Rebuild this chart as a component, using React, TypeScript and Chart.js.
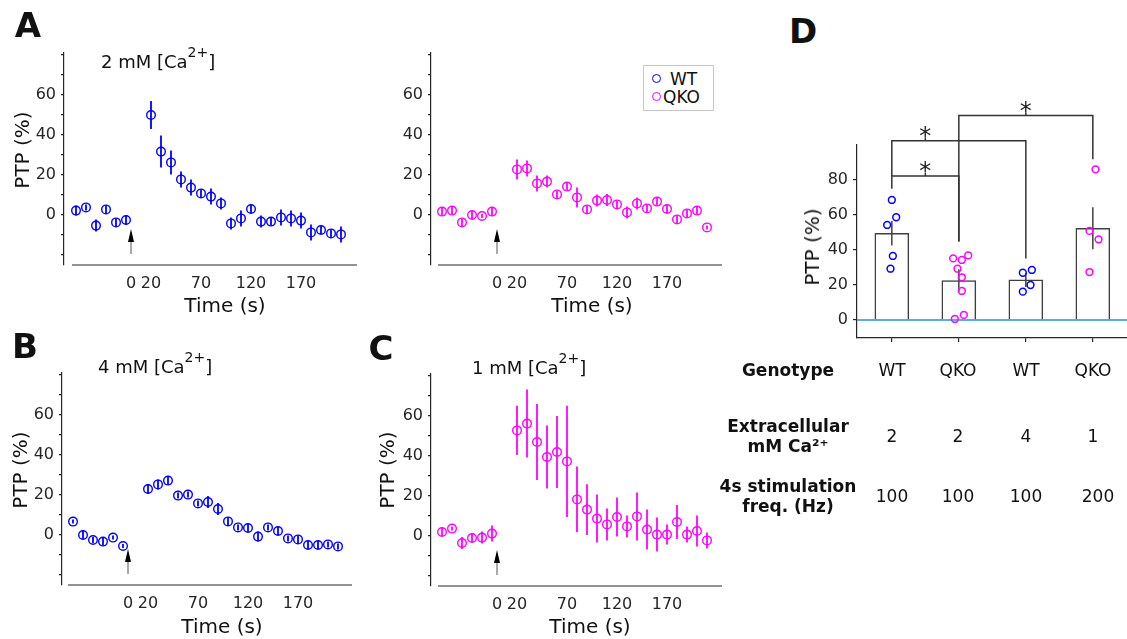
import React, { useEffect, useRef } from 'react';
import { Chart, registerables } from 'chart.js';

Chart.register(...registerables);

const FONT_FAMILY = "'DejaVu Sans', Verdana, sans-serif";
const AXIS_COLOR = '#262626';
const TEXT_COLOR = '#111111';
const WT_COLOR = '#0000ff';
const QKO_COLOR = '#ff00ff';
const BAR_EDGE = '#404040';
const ZERO_LINE_COLOR = '#2a8fd4';

// ---------- time-course data (A, B, C) ----------
const baselineTimes = [-55, -45, -35, -25, -15, -5];
const postTetanicTimes = [20, 30, 40, 50, 60, 70, 80, 90, 100, 110, 120, 130, 140, 150, 160, 170, 180, 190, 200, 210];
const sampleTimes = [...baselineTimes, ...postTetanicTimes];
const timeTicks = [0, 20, 70, 120, 170];
const ptpMin = -25;
const ptpMax = 81;
const ptpStep = 10;
const ptpLabelled = [0, 20, 40, 60];
const stimulusArrow = { time: 0, tip: -7, base: -13.5, tail: -19.5 };

// A left: WT, 2 mM Ca2+
const wt2mMMean = [2.2, 3.8, -5.3, 2.8, -3.7, -2.5, 50, 31.7, 26.3, 17.8, 13.7, 10.8, 9.2, 5.8, -4.2, -1.7, 3, -3.3, -3.3, -1.2, -1.7, -2.8, -8.7, -7.5, -9.2, -9.7];
const wt2mMErr = [2.5, 1.5, 3, 2, 2, 2.5, 7, 8, 6, 4, 4, 2, 4, 3, 3, 4, 2, 3, 2, 4, 4, 4, 4, 2, 2, 4];
// A right: QKO, 2 mM Ca2+
const qko2mMMean = [1.7, 2.2, -3.7, 0, -0.5, 1.7, 22.8, 23.3, 15.8, 16.7, 10.3, 14.2, 8.8, 2.8, 7.2, 7.5, 5.3, 1.3, 5.8, 3.3, 6.7, 3, -2.2, 0.8, 2.2, -6.2];
const qko2mMErr = [2, 2, 2, 2, 1, 2, 5, 4, 4, 3, 2, 2, 5, 2, 3, 3, 2, 3, 3, 2, 2, 2, 2, 2, 2, 1];
// B: WT, 4 mM Ca2+
const wt4mMMean = [6.7, 0, -2.5, -3.3, -1.3, -5.5, 23, 25.3, 27.2, 19.7, 20.2, 15.8, 16.5, 13, 6.8, 3.8, 3.5, -0.8, 3.8, 2, -1.7, -2.2, -5, -5, -4.7, -5.7];
const wt4mMErr = [1, 2, 1.5, 2, 1, 1, 2.5, 2.5, 2, 1.5, 1.5, 1.5, 3, 3, 2, 1.5, 2, 2.5, 1.5, 2, 1.5, 2, 2, 2, 1.5, 1.5];
// C: QKO, 1 mM Ca2+
const qko1mMMean = [2, 3.7, -3.5, -1, -0.8, 1.2, 52.8, 56.2, 47, 39.5, 42, 37.3, 18.3, 13.2, 8.7, 5.8, 9.5, 4.8, 9.8, 3.2, 0.7, 0.7, 7, 0.7, 2.5, -2.2];
const qko1mMErr = [2, 1, 3, 2, 3, 4, 12.3, 17, 19, 15.7, 18, 27.8, 16.4, 12.7, 12, 8, 9.8, 5.5, 12, 10, 8.5, 5, 8.5, 4, 7.7, 4];

// ---------- summary data (D) ----------
const groupPositions = [1, 2, 3, 4];
const groupGenotype = ['WT', 'QKO', 'WT', 'QKO'];
const groupCalcium = ['2', '2', '4', '1'];
const groupFrequency = ['100', '100', '100', '200'];
const groupMeans = [49.5, 22.5, 22.9, 52.4];
const groupSem = [7, 6.5, 4, 12];
const cellsWT2 = [68.6, 58.7, 54.3, 36.6, 29.3];
const cellsWT2Jitter = [0, 0.065, -0.07, 0.015, -0.02];
const cellsQKO2 = [35.2, 34.3, 36.9, 29.3, 24.4, 16.6, 2.9, 0.6];
const cellsQKO2Jitter = [-0.085, 0.045, 0.14, -0.02, 0.045, 0.045, 0.075, -0.06];
const cellsWT4 = [27, 28.6, 20, 16.2];
const cellsWT4Jitter = [-0.045, 0.09, 0.07, -0.045];
const cellsQKO1 = [86.1, 50.9, 46.1, 27.4];
const cellsQKO1Jitter = [0.04, -0.05, 0.085, -0.05];
const barTicks = [0, 20, 40, 60, 80];
const barYMin = -10.29;
const barYMax = 100;
const barXMin = 0.48;
const barXMax = 4.51;
// [from group, to group, bracket height, left leg end, right leg end, star position]
const significance: number[][] = [
  [1, 2, 82.3, 75, 44.8, 1.5],
  [1, 3, 102.5, 82.3, 35.2, 1.5],
  [2, 4, 116.8, 44.8, 91.8, 3],
];

type Geo = { yAxisX: number; zeroX: number; xLineStart: number; xLineEnd: number; zeroY: number };
const PX_PER_S = 1;
const PX_PER_PCT = 2;

function TimeCourse({ geo, mean, err, color }: { geo: Geo; mean: number[]; err: number[]; color: string }) {
  const ref = useRef<HTMLCanvasElement>(null);
  const padL = 50, padT = 18, padR = 12, xH = 44;
  const areaTop = geo.zeroY - ptpMax * PX_PER_PCT;
  const areaBottom = geo.zeroY - ptpMin * PX_PER_PCT;
  const left = geo.yAxisX - padL;
  const top = areaTop - padT;
  const width = geo.xLineEnd + padR - left;
  const height = areaBottom + xH - top;
  const xMin = -(geo.zeroX - geo.yAxisX) / PX_PER_S;
  const xMax = (geo.xLineEnd - geo.zeroX) / PX_PER_S;

  useEffect(() => {
    const canvas = ref.current!;
    const overlay = {
      id: 'ptpOverlay',
      afterDatasetsDraw(chart: any) {
        const { ctx, chartArea, scales } = chart;
        const sx = scales.x, sy = scales.y;
        ctx.save();
        ctx.strokeStyle = color;
        ctx.lineWidth = 1.8;
        sampleTimes.forEach((t, i) => {
          const px = sx.getPixelForValue(t);
          ctx.beginPath();
          ctx.moveTo(px, sy.getPixelForValue(mean[i] - err[i]));
          ctx.lineTo(px, sy.getPixelForValue(mean[i] + err[i]));
          ctx.stroke();
        });
        ctx.strokeStyle = AXIS_COLOR;
        ctx.lineWidth = 1.2;
        ctx.beginPath();
        ctx.moveTo(chartArea.left + (geo.xLineStart - geo.yAxisX), chartArea.bottom);
        ctx.lineTo(chartArea.right, chartArea.bottom);
        ctx.stroke();
        const ax = sx.getPixelForValue(stimulusArrow.time);
        const yTip = sy.getPixelForValue(stimulusArrow.tip);
        const yBase = sy.getPixelForValue(stimulusArrow.base);
        const yTail = sy.getPixelForValue(stimulusArrow.tail);
        ctx.strokeStyle = '#555555';
        ctx.lineWidth = 1;
        ctx.beginPath();
        ctx.moveTo(ax, yTail);
        ctx.lineTo(ax, yBase);
        ctx.stroke();
        ctx.fillStyle = '#000000';
        ctx.beginPath();
        ctx.moveTo(ax, yTip);
        ctx.lineTo(ax - 3, yBase);
        ctx.lineTo(ax + 3, yBase);
        ctx.closePath();
        ctx.fill();
        ctx.restore();
      },
    };
    const chart = new Chart(canvas, {
      type: 'scatter',
      data: {
        datasets: [
          {
            data: sampleTimes.map((t, i) => ({ x: t, y: mean[i] })),
            borderColor: color,
            backgroundColor: 'rgba(0,0,0,0)',
            pointRadius: 4.3,
            pointHoverRadius: 4.3,
            pointBorderWidth: 1.4,
          },
        ],
      },
      options: {
        responsive: false,
        animation: false,
        events: [],
        layout: { autoPadding: false, padding: { left: 0, top: padT, right: padR, bottom: 0 } },
        plugins: { legend: { display: false }, tooltip: { enabled: false } },
        scales: {
          x: {
            type: 'linear',
            min: xMin,
            max: xMax,
            afterBuildTicks: (s: any) => {
              s.ticks = timeTicks.map((v) => ({ value: v }));
            },
            afterFit: (s: any) => {
              s.height = xH;
            },
            grid: { display: false, drawTicks: false },
            border: { display: false },
            ticks: {
              autoSkip: false,
              maxRotation: 0,
              font: { family: FONT_FAMILY, size: 16 },
              color: AXIS_COLOR,
              padding: 9,
            },
          },
          y: {
            type: 'linear',
            min: ptpMin,
            max: ptpMax,
            afterFit: (s: any) => {
              s.width = padL;
            },
            ticks: {
              stepSize: ptpStep,
              includeBounds: false,
              autoSkip: false,
              callback: (v: any) => (ptpLabelled.includes(Number(v)) ? String(v) : ''),
              font: { family: FONT_FAMILY, size: 16 },
              color: AXIS_COLOR,
              padding: 5,
            },
            grid: { drawOnChartArea: false, drawTicks: true, tickLength: 3, color: AXIS_COLOR, lineWidth: 1.2 },
            border: { display: true, color: AXIS_COLOR, width: 1.2 },
          },
        },
      } as any,
      plugins: [overlay],
    });
    return () => chart.destroy();
  }, []);

  return <canvas ref={ref} width={width} height={height} style={{ position: 'absolute', left, top, width, height }} />;
}

function SummaryBars() {
  const ref = useRef<HTMLCanvasElement>(null);
  const left = 810, top = 70, width = 317, height = 286;
  const padL = 47, padT = 75, xH = 18;

  useEffect(() => {
    const canvas = ref.current!;
    const overlay = {
      id: 'summaryOverlay',
      afterDatasetDraw(chart: any, args: any) {
        if (args.index !== 0) return;
        const { ctx, scales } = chart;
        ctx.save();
        ctx.strokeStyle = BAR_EDGE;
        ctx.lineWidth = 1.5;
        groupPositions.forEach((g, i) => {
          const px = scales.x.getPixelForValue(g);
          ctx.beginPath();
          ctx.moveTo(px, scales.y.getPixelForValue(groupMeans[i] - groupSem[i]));
          ctx.lineTo(px, scales.y.getPixelForValue(groupMeans[i] + groupSem[i]));
          ctx.stroke();
        });
        ctx.restore();
      },
      afterDraw(chart: any) {
        const { ctx, scales } = chart;
        const sx = scales.x, sy = scales.y;
        ctx.save();
        ctx.strokeStyle = '#333333';
        ctx.lineWidth = 1.5;
        ctx.fillStyle = '#222222';
        ctx.font = `24px ${FONT_FAMILY}`;
        ctx.textAlign = 'center';
        ctx.textBaseline = 'alphabetic';
        significance.forEach(([a, b, h, la, lb, s]) => {
          const xl = sx.getPixelForValue(a);
          const xr = sx.getPixelForValue(b);
          const yt = sy.getPixelForValue(h);
          ctx.beginPath();
          ctx.moveTo(xl, sy.getPixelForValue(la));
          ctx.lineTo(xl, yt);
          ctx.lineTo(xr, yt);
          ctx.lineTo(xr, sy.getPixelForValue(lb));
          ctx.stroke();
          const xm = sx.getPixelForValue(s);
          ctx.beginPath();
          ctx.moveTo(xm, yt);
          ctx.lineTo(xm, yt - 3);
          ctx.stroke();
          ctx.fillText('*', xm, yt + 3);
        });
        ctx.restore();
      },
    };
    const cellSet = (vals: number[], jit: number[], g: number, color: string) => ({
      type: 'scatter',
      data: vals.map((v, i) => ({ x: g + jit[i], y: v })),
      borderColor: color,
      backgroundColor: 'rgba(0,0,0,0)',
      pointRadius: 3.4,
      pointHoverRadius: 3.4,
      pointBorderWidth: 1.5,
      order: 1,
    });
    const chart = new Chart(canvas, {
      type: 'bar',
      data: {
        datasets: [
          {
            type: 'bar',
            data: groupPositions.map((g, i) => ({ x: g, y: groupMeans[i] })),
            backgroundColor: '#ffffff',
            borderColor: BAR_EDGE,
            borderWidth: 1.5,
            borderSkipped: 'bottom',
            barThickness: 34,
            order: 3,
          },
          {
            type: 'line',
            data: [
              { x: barXMin, y: 0 },
              { x: barXMax, y: 0 },
            ],
            borderColor: ZERO_LINE_COLOR,
            borderWidth: 1.5,
            pointRadius: 0,
            order: 2,
          },
          cellSet(cellsWT2, cellsWT2Jitter, 1, WT_COLOR),
          cellSet(cellsQKO2, cellsQKO2Jitter, 2, QKO_COLOR),
          cellSet(cellsWT4, cellsWT4Jitter, 3, WT_COLOR),
          cellSet(cellsQKO1, cellsQKO1Jitter, 4, QKO_COLOR),
        ] as any,
      },
      options: {
        responsive: false,
        animation: false,
        events: [],
        layout: { autoPadding: false, padding: { left: 0, top: padT, right: 0, bottom: 0 } },
        plugins: { legend: { display: false }, tooltip: { enabled: false } },
        scales: {
          x: {
            type: 'linear',
            offset: false,
            min: barXMin,
            max: barXMax,
            afterBuildTicks: (s: any) => {
              s.ticks = groupPositions.map((v) => ({ value: v }));
            },
            afterFit: (s: any) => {
              s.height = xH;
            },
            ticks: { callback: () => '', autoSkip: false, maxRotation: 0 },
            grid: { offset: false, drawOnChartArea: false, drawTicks: true, tickLength: 4, color: AXIS_COLOR, lineWidth: 1.2 },
            border: { display: true, color: AXIS_COLOR, width: 1.2 },
          },
          y: {
            type: 'linear',
            min: barYMin,
            max: barYMax,
            afterBuildTicks: (s: any) => {
              s.ticks = barTicks.map((v) => ({ value: v }));
            },
            afterFit: (s: any) => {
              s.width = padL;
            },
            ticks: { font: { family: FONT_FAMILY, size: 16 }, color: AXIS_COLOR, padding: 5, autoSkip: false },
            grid: { drawOnChartArea: false, drawTicks: true, tickLength: 4, color: AXIS_COLOR, lineWidth: 1.2 },
            border: { display: true, color: AXIS_COLOR, width: 1.2 },
          },
        },
      } as any,
      plugins: [overlay],
    });
    return () => chart.destroy();
  }, []);

  return <canvas ref={ref} width={width} height={height} style={{ position: 'absolute', left, top, width, height }} />;
}

function Txt({ x, y, size, bold, rotate, children, align }: { x: number; y: number; size: number; bold?: boolean; rotate?: boolean; children: React.ReactNode; align?: 'left' | 'center' }) {
  const tx = align === 'left' ? '0' : '-50%';
  return (
    <div
      style={{
        position: 'absolute',
        left: x,
        top: y,
        fontSize: size,
        fontWeight: bold ? 'bold' : 'normal',
        lineHeight: 1,
        whiteSpace: 'nowrap',
        transform: `translate(${tx}, -50%)${rotate ? ' rotate(-90deg)' : ''}`,
        color: TEXT_COLOR,
      }}
    >
      {children}
    </div>
  );
}

function CaTitle({ x, y, mM }: { x: number; y: number; mM: string }) {
  return (
    <div style={{ position: 'absolute', left: x, top: y, fontSize: 18, lineHeight: 1, whiteSpace: 'nowrap', color: TEXT_COLOR }}>
      {mM} mM [Ca<span style={{ position: 'relative', top: -11, fontSize: 14 }}>2+</span>]
    </div>
  );
}

function LegendBox() {
  const dot = (c: string) => ({
    position: 'absolute' as const,
    width: 7,
    height: 7,
    borderRadius: '50%',
    border: `1.5px solid ${c}`,
  });
  return (
    <div style={{ position: 'absolute', left: 643, top: 65, width: 69, height: 44, border: '1px solid #c8c8c8', background: '#fff' }}>
      <div style={{ ...dot(WT_COLOR), left: 8, top: 8 }} />
      <div style={{ position: 'absolute', left: 26, top: 13, transform: 'translateY(-50%)', fontSize: 17, lineHeight: 1, color: TEXT_COLOR }}>WT</div>
      <div style={{ ...dot(QKO_COLOR), left: 8, top: 26 }} />
      <div style={{ position: 'absolute', left: 19, top: 31, transform: 'translateY(-50%)', fontSize: 17, lineHeight: 1, color: TEXT_COLOR }}>QKO</div>
    </div>
  );
}

const tableCols = [892, 958, 1026, 1093];

export default function App() {
  return (
    <div style={{ position: 'absolute', left: 0, top: 0, width: 1127, height: 639, background: '#ffffff', overflow: 'hidden', fontFamily: FONT_FAMILY }}>
      <TimeCourse geo={{ yAxisX: 64, zeroX: 131, xLineStart: 72, xLineEnd: 357, zeroY: 215 }} mean={wt2mMMean} err={wt2mMErr} color={WT_COLOR} />
      <TimeCourse geo={{ yAxisX: 431, zeroX: 497, xLineStart: 438, xLineEnd: 722, zeroY: 215 }} mean={qko2mMMean} err={qko2mMErr} color={QKO_COLOR} />
      <TimeCourse geo={{ yAxisX: 62, zeroX: 128, xLineStart: 68, xLineEnd: 352, zeroY: 535 }} mean={wt4mMMean} err={wt4mMErr} color={WT_COLOR} />
      <TimeCourse geo={{ yAxisX: 431, zeroX: 497, xLineStart: 438, xLineEnd: 722, zeroY: 536 }} mean={qko1mMMean} err={qko1mMErr} color={QKO_COLOR} />
      <SummaryBars />

      <Txt x={28} y={25} size={34} bold>A</Txt>
      <Txt x={25} y={346} size={34} bold>B</Txt>
      <Txt x={381} y={348} size={34} bold>C</Txt>
      <Txt x={803} y={31} size={34} bold>D</Txt>

      <CaTitle x={101} y={53} mM="2" />
      <CaTitle x={98} y={358} mM="4" />
      <CaTitle x={472} y={359} mM="1" />

      <Txt x={22} y={150} size={20} rotate>PTP (%)</Txt>
      <Txt x={20} y={470} size={20} rotate>PTP (%)</Txt>
      <Txt x={387} y={470} size={20} rotate>PTP (%)</Txt>
      <Txt x={812} y={247} size={20} rotate>PTP (%)</Txt>

      <Txt x={225} y={305} size={20}>Time (s)</Txt>
      <Txt x={592} y={305} size={20}>Time (s)</Txt>
      <Txt x={222} y={626} size={20}>Time (s)</Txt>
      <Txt x={590} y={626} size={20}>Time (s)</Txt>

      <LegendBox />

      <Txt x={788} y={370} size={17} bold>Genotype</Txt>
      <Txt x={788} y={426} size={17} bold>Extracellular</Txt>
      <Txt x={788} y={446} size={17} bold>mM Ca²⁺</Txt>
      <Txt x={788} y={486} size={17} bold>4s stimulation</Txt>
      <Txt x={788} y={506} size={17} bold>freq. (Hz)</Txt>
      {groupGenotype.map((g, i) => (
        <Txt key={'g' + i} x={tableCols[i]} y={370} size={17}>{g}</Txt>
      ))}
      {groupCalcium.map((c, i) => (
        <Txt key={'c' + i} x={tableCols[i]} y={436} size={17}>{c}</Txt>
      ))}
      {groupFrequency.map((f, i) => (
        <Txt key={'f' + i} x={tableCols[i] + (i === 3 ? 5 : 0)} y={496} size={17}>{f}</Txt>
      ))}
    </div>
  );
}
